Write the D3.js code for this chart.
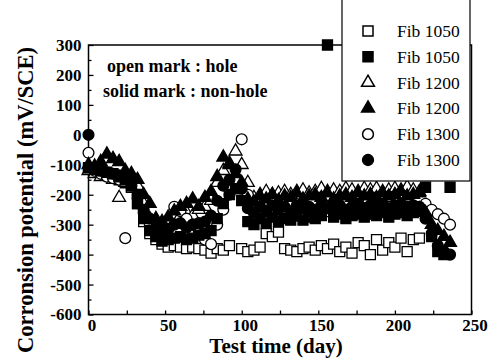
<!DOCTYPE html>
<html>
<head>
<meta charset="utf-8">
<script src="https://cdn.jsdelivr.net/npm/d3@7"></script>
<style>
  body { margin: 0; background: #fff; }
  text { font-family: "Liberation Serif", serif; }
</style>
</head>
<body>
<div id="chart"></div>
<script>
// Data
var days = [0,4,8,12,16,20,24,28,32,36,40,44,48,52,56,60,64,68,72,76,80,84,88,92,96,100,
  104,108,112,116,120,124,128,132,136,140,144,148,152,156,160,164,168,172,176,180,184,188,
  192,196,200,204,208,212,216,220,224,228,232,236];

var fib1050open = [-115,-125,-130,-135,-140,-150,-160,-175,-230,-290,-330,-350,-365,-375,-370,-375,
  -380,-375,-380,-385,-395,-380,-385,-370,-160,-380,-390,-385,-375,-330,-340,-325,-380,-385,-390,
  -380,-375,-385,-370,-380,-365,-390,-375,-395,-360,-370,-400,-350,-385,-360,-375,-345,-390,-350,
  -345,null,null,null,null,null];
var fib1050solid = [-110,-115,-120,-125,-130,-140,-150,-170,-230,-280,-320,-340,-355,-350,-345,-340,
  -350,-345,-335,-330,-320,-280,-230,-200,-180,-220,-290,-300,-280,-295,-275,-290,-280,-285,-270,
  -285,-275,-280,-270,300,-275,-265,-280,-270,-265,-275,-265,-270,-260,-275,-265,-260,-270,-260,
  -250,-175,-340,-390,-400,-175];
var fib1200open = [-120,-130,-140,-135,-150,-210,-160,-150,-170,-230,-280,-300,-310,-300,-280,-270,
  -260,-270,-250,-240,-220,-160,-120,-95,-55,-100,-160,-210,-200,-190,-200,-195,-190,-200,-190,
  -185,-195,-190,-180,-190,-185,-190,-180,-185,-190,-180,-185,-180,-190,-185,-180,-185,-175,-185,
  -190,null,null,null,null,null];
var fib1200solid = [-100,-105,-90,-65,-80,-90,-120,-130,-150,-200,-230,-280,-290,-275,-255,-240,
  -230,-215,-240,-210,-190,-140,-75,-100,-130,-160,-215,-225,-205,-215,-200,-220,-205,-210,-195,
  -215,-205,-200,-210,-195,-215,-205,-200,-210,-195,-205,-200,-210,-195,-205,-200,-190,-205,-200,
  -195,-260,-300,-320,-340,-360];
var fib1300open = [-60,-120,-130,-140,-145,-150,-345,-170,-210,-260,-300,-330,-335,-290,-240,-255,
  -280,-300,-320,-350,-365,-300,-250,-200,-150,-15,-200,-260,-270,-275,-270,-265,-270,-275,-270,
  -275,-265,-260,-265,-255,-260,-255,-250,-255,-215,-245,-250,-245,-240,-205,-245,-240,-245,-250,
  -240,-230,-250,-265,-280,-300];
var fib1300solid = [0,-110,-120,-125,-130,-135,-140,-160,-200,-250,-280,-310,-320,-315,-300,-295,
  -310,-300,-295,-290,-270,-220,-170,-150,-115,-180,-245,-260,-240,-255,-235,-250,-240,-255,-235,
  -245,-240,-250,-235,-245,-240,-235,-250,-240,-230,-245,-235,-240,-230,-245,-235,-230,-240,-235,
  -240,-280,-330,-370,-390,-400];

var seriesNames = ['Fib 1050', 'Fib 1050', 'Fib 1200', 'Fib 1200', 'Fib 1300', 'Fib 1300'];
var xTicks = [0, 50, 100, 150, 200, 250];
var yTicks = [-600, -500, -400, -300, -200, -100, 0, 100, 200, 300];
var notes = ['open mark : hole', 'solid mark : non-hole'];

var series = [
  {name: seriesNames[0], values: fib1050open, shape: d3.symbolSquare, size: 100, filled: false},
  {name: seriesNames[1], values: fib1050solid, shape: d3.symbolSquare, size: 100, filled: true},
  {name: seriesNames[2], values: fib1200open, shape: d3.symbolTriangle, size: 72, filled: false},
  {name: seriesNames[3], values: fib1200solid, shape: d3.symbolTriangle, size: 72, filled: true},
  {name: seriesNames[4], values: fib1300open, shape: d3.symbolCircle, size: 92, filled: false},
  {name: seriesNames[5], values: fib1300solid, shape: d3.symbolCircle, size: 92, filled: true}
];
// open marks go down first, solid marks on top of them
var drawOrder = [0, 2, 4, 1, 3, 5];

// Base
var W = 492, H = 363;
var plot = {left: 88.5, right: 471.5, top: 45, bottom: 314.5};
var serif = '"Liberation Serif", serif';

var svg = d3.select('#chart').append('svg')
    .attr('width', W)
    .attr('height', H);

var x = d3.scaleLinear().domain([0, 250]).range([plot.left, plot.right]);
var y = d3.scaleLinear().domain([-600, 300]).range([plot.bottom, plot.top]);

// frame
svg.append('rect')
    .attr('x', plot.left).attr('y', plot.top)
    .attr('width', plot.right - plot.left).attr('height', plot.bottom - plot.top)
    .attr('fill', 'none').attr('stroke', '#000').attr('stroke-width', 1.5);

// axes
svg.append('g')
    .attr('transform', 'translate(' + plot.left + ',0)')
    .call(d3.axisLeft(y).tickValues(yTicks).tickSizeInner(-5).tickSizeOuter(0)
      .tickPadding(7).tickFormat(function(d) { return String(d); }));
svg.append('g')
    .attr('transform', 'translate(' + plot.left + ',0)')
    .call(d3.axisLeft(y).tickValues(d3.range(-550, 300, 100)).tickSizeInner(-3).tickSizeOuter(0)
      .tickFormat(''));
var xAxis = svg.append('g')
    .attr('transform', 'translate(0,' + plot.bottom + ')')
    .call(d3.axisBottom(x).tickValues(xTicks).tickSizeInner(-4).tickSizeOuter(0).tickPadding(4));
svg.append('g')
    .attr('transform', 'translate(0,' + plot.bottom + ')')
    .call(d3.axisBottom(x).tickValues([25, 75, 125, 175, 225]).tickSizeInner(-4).tickSizeOuter(0)
      .tickFormat(''));

svg.selectAll('.domain').remove();
svg.selectAll('.tick line').attr('stroke', '#000').attr('stroke-width', 1.3);
svg.selectAll('.tick text')
    .attr('fill', '#000')
    .style('font-family', serif)
    .style('font-size', '17px')
    .style('font-weight', 'bold');
xAxis.selectAll('.tick text').attr('dx', 3);

// axis titles
svg.append('text')
    .attr('x', 276).attr('y', 353)
    .attr('text-anchor', 'middle')
    .style('font-family', serif)
    .style('font-size', '21px').style('font-weight', 'bold')
    .text('Test time (day)');
svg.append('text')
    .attr('transform', 'translate(33,200) rotate(-90)')
    .attr('text-anchor', 'middle')
    .style('font-family', serif)
    .style('font-size', '22.5px').style('font-weight', 'bold')
    .text('Corronsion potential (mV/SCE)');

// notes
svg.selectAll('.note')
    .data(notes)
    .enter()
    .append('text')
    .attr('class', 'note')
    .attr('x', function(d, i) { return i === 0 ? 107 : 103; })
    .attr('y', function(d, i) { return 72 + i * 24.5; })
    .style('font-family', serif)
    .style('font-size', '18px').style('font-weight', 'bold')
    .text(function(d) { return d; });

// markers
var sym = d3.symbol();
drawOrder.forEach(function(k) {
    var s = series[k];
    var pts = days.map(function(d, i) { return {day: d, v: s.values[i]}; })
        .filter(function(p) { return p.v !== null; });
    svg.append('g').selectAll('path')
        .data(pts)
        .enter()
        .append('path')
        .attr('transform', function(p) { return 'translate(' + x(p.day) + ',' + y(p.v) + ')'; })
        .attr('d', sym.type(s.shape).size(s.size)())
        .attr('fill', s.filled ? '#000' : '#fff')
        .attr('stroke', '#000')
        .attr('stroke-width', 1.3);
});

// legend
var lg = svg.append('g');
lg.append('rect')
    .attr('x', 342).attr('y', -2)
    .attr('width', 128).attr('height', 183)
    .attr('fill', '#fff').attr('stroke', '#000').attr('stroke-width', 1.2);
var rows = lg.selectAll('.row')
    .data(series)
    .enter()
    .append('g')
    .attr('class', 'row')
    .attr('transform', function(d, i) { return 'translate(0,' + (31 + i * 25.8) + ')'; });
rows.append('path')
    .attr('transform', 'translate(368,0)')
    .attr('d', function(d) { return d3.symbol().type(d.shape).size(d.size)(); })
    .attr('fill', function(d) { return d.filled ? '#000' : '#fff'; })
    .attr('stroke', '#000')
    .attr('stroke-width', 1.5);
rows.append('text')
    .attr('x', 397).attr('y', 6)
    .style('font-family', serif)
    .style('font-size', '17.5px')
    .text(function(d) { return d.name; });

// the outlier square sits on top of the frame line
svg.append('path')
    .attr('transform', 'translate(' + x(days[39]) + ',' + y(fib1050solid[39]) + ')')
    .attr('d', d3.symbol().type(d3.symbolSquare).size(100)())
    .attr('fill', '#000');
</script>
</body>
</html>
